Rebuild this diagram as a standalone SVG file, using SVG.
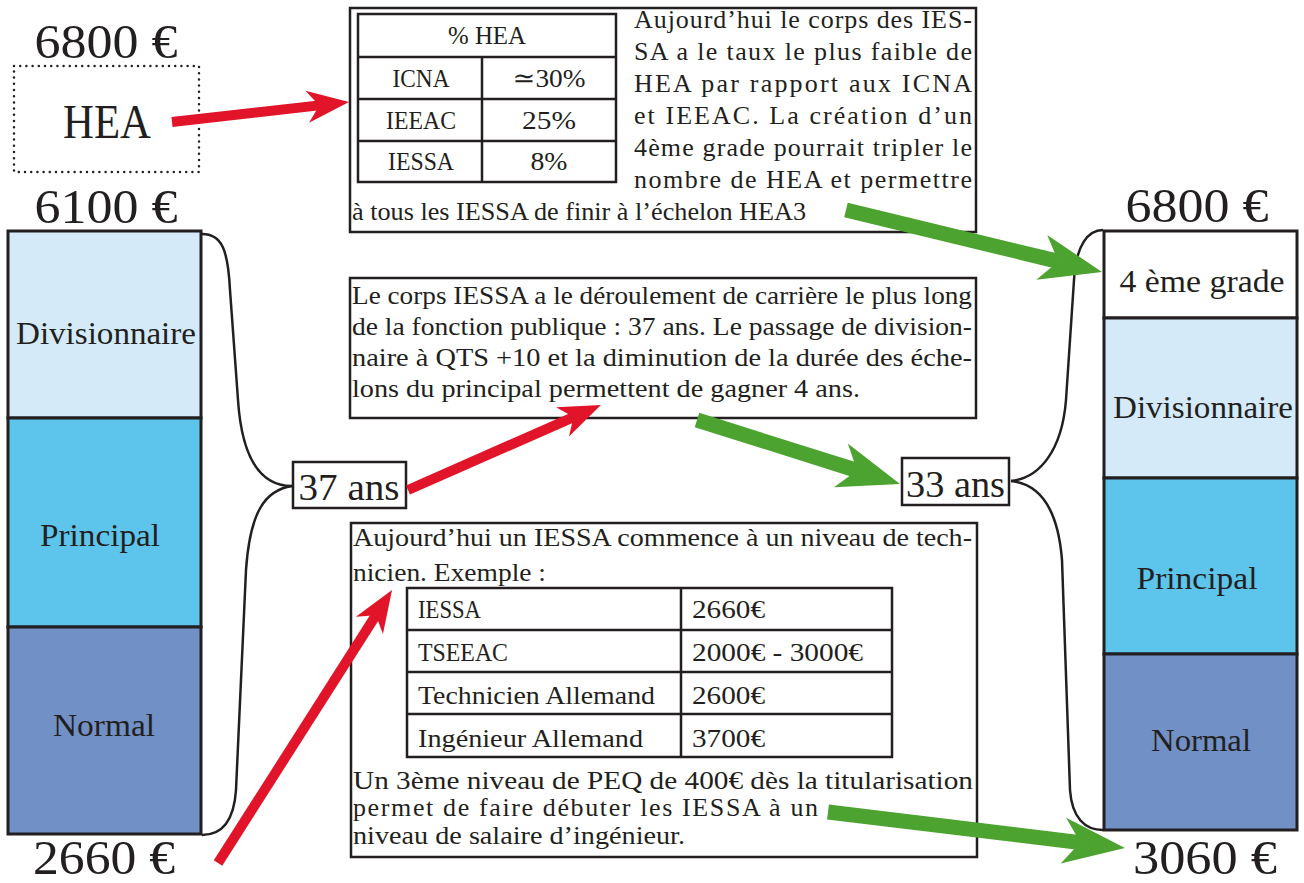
<svg xmlns="http://www.w3.org/2000/svg" width="1304" height="883" viewBox="0 0 1304 883">
<style>
.t{font-family:"Liberation Serif","DejaVu Serif",serif;fill:#231f20}
.b{font-size:26px}
.big{font-size:48px}
.lab{font-size:32px}
.box{fill:#fff;stroke:#231f20;stroke-width:2.5}
.cell{fill:none;stroke:#231f20;stroke-width:2.5}
.col{stroke:#231f20;stroke-width:3}
.brace{fill:none;stroke:#231f20;stroke-width:2.5}
.red{stroke:#e11429;stroke-width:10;fill:none}
.green{stroke:#4ca330;stroke-width:15;fill:none}
</style>
<defs>
<marker id="hr" markerUnits="userSpaceOnUse" viewBox="-15 -20 50 40" refX="0" refY="0" markerWidth="50" markerHeight="40" orient="auto" overflow="visible"><path d="M30,0 L-12,-16 L0,0 L-12,16 Z" fill="#e11429"/></marker>
<marker id="hg" markerUnits="userSpaceOnUse" viewBox="-20 -25 70 50" refX="0" refY="0" markerWidth="70" markerHeight="50" orient="auto" overflow="visible"><path d="M45,0 L-17,-23 L0,0 L-17,23 Z" fill="#4ca330"/></marker>
</defs>
<rect width="1304" height="883" fill="#fff"/>

<g id="left-column">
<text class="t big" x="106" y="58" text-anchor="middle" textLength="143" lengthAdjust="spacingAndGlyphs">6800 €</text>
<text class="t big" x="106" y="223" text-anchor="middle" textLength="143" lengthAdjust="spacingAndGlyphs">6100 €</text>
<text class="t big" x="104" y="874" text-anchor="middle" textLength="142" lengthAdjust="spacingAndGlyphs">2660 €</text>
<rect class="col" x="8" y="231" width="193" height="187" fill="#d4eaf8"/>
<rect class="col" x="8" y="418" width="193" height="209" fill="#5dc4ec"/>
<rect class="col" x="8" y="627" width="193" height="207" fill="#7190c6"/>
<text class="t lab" x="106" y="344" text-anchor="middle" textLength="180" lengthAdjust="spacingAndGlyphs">Divisionnaire</text>
<text class="t lab" x="100" y="546" text-anchor="middle" textLength="120" lengthAdjust="spacingAndGlyphs">Principal</text>
<text class="t lab" x="104" y="736" text-anchor="middle" textLength="102" lengthAdjust="spacingAndGlyphs">Normal</text>
</g>

<g id="hea">
<rect x="14" y="66" width="185" height="106" fill="none" stroke="#231f20" stroke-width="2.5" stroke-linecap="round" stroke-dasharray="0 6.2"/>
<text class="t big" x="107" y="138" text-anchor="middle" textLength="88" lengthAdjust="spacingAndGlyphs">HEA</text>
</g>

<g id="box-hea">
<rect class="box" x="350" y="8" width="626" height="224"/>
<rect class="cell" x="358" y="14" width="258" height="168" stroke-width="3"/>
<path class="cell" d="M358,57 H616 M358,99 H616 M358,141 H616 M482,57 V182"/>
<text class="t b" x="487" y="44" text-anchor="middle" textLength="78" lengthAdjust="spacingAndGlyphs">% HEA</text>
<text class="t b" x="421" y="87" text-anchor="middle" textLength="57" lengthAdjust="spacingAndGlyphs">ICNA</text>
<text class="t b" x="549" y="87" text-anchor="middle" textLength="73" lengthAdjust="spacingAndGlyphs">≃30%</text>
<text class="t b" x="421" y="129" text-anchor="middle" textLength="70" lengthAdjust="spacingAndGlyphs">IEEAC</text>
<text class="t b" x="549" y="129" text-anchor="middle" textLength="54" lengthAdjust="spacingAndGlyphs">25%</text>
<text class="t b" x="421" y="170" text-anchor="middle" textLength="66" lengthAdjust="spacingAndGlyphs">IESSA</text>
<text class="t b" x="549" y="170" text-anchor="middle" textLength="37" lengthAdjust="spacingAndGlyphs">8%</text>
<text class="t b" x="634" y="28" textLength="338" lengthAdjust="spacing">Aujourd’hui le corps des IES-</text>
<text class="t b" x="634" y="60" textLength="338" lengthAdjust="spacing">SA a le taux le plus faible de</text>
<text class="t b" x="634" y="92" textLength="338" lengthAdjust="spacing">HEA par rapport aux ICNA</text>
<text class="t b" x="634" y="124" textLength="338" lengthAdjust="spacing">et IEEAC. La création d’un</text>
<text class="t b" x="634" y="156" textLength="338" lengthAdjust="spacing">4ème grade pourrait tripler le</text>
<text class="t b" x="634" y="188" textLength="338" lengthAdjust="spacing">nombre de HEA et permettre</text>
<text class="t b" x="352" y="220" textLength="454" lengthAdjust="spacingAndGlyphs">à tous les IESSA de finir à l’échelon HEA3</text>
</g>

<g id="box-carriere">
<rect class="box" x="350" y="278" width="626" height="140"/>
<text class="t b" x="352" y="304" textLength="620" lengthAdjust="spacingAndGlyphs">Le corps IESSA a le déroulement de carrière le plus long</text>
<text class="t b" x="352" y="335" textLength="620" lengthAdjust="spacingAndGlyphs">de la fonction publique : 37 ans. Le passage de division-</text>
<text class="t b" x="352" y="366" textLength="620" lengthAdjust="spacingAndGlyphs">naire à QTS +10 et la diminution de la durée des éche-</text>
<text class="t b" x="352" y="397" textLength="508" lengthAdjust="spacingAndGlyphs">lons du principal permettent de gagner 4 ans.</text>
</g>

<g id="box-salaire">
<rect class="box" x="351" y="523" width="626" height="334"/>
<text class="t b" x="353" y="546" textLength="619" lengthAdjust="spacingAndGlyphs">Aujourd’hui un IESSA commence à un niveau de tech-</text>
<text class="t b" x="353" y="581" textLength="193" lengthAdjust="spacingAndGlyphs">nicien. Exemple :</text>
<rect class="cell" x="407" y="588" width="485" height="169" stroke-width="3"/>
<path class="cell" d="M407,630 H892 M407,672 H892 M407,714 H892 M681,588 V757"/>
<text class="t b" x="418" y="618" textLength="63" lengthAdjust="spacingAndGlyphs">IESSA</text>
<text class="t b" x="692" y="618" textLength="73" lengthAdjust="spacingAndGlyphs">2660€</text>
<text class="t b" x="418" y="661" textLength="90" lengthAdjust="spacingAndGlyphs">TSEEAC</text>
<text class="t b" x="692" y="661" textLength="171" lengthAdjust="spacingAndGlyphs">2000€ - 3000€</text>
<text class="t b" x="418" y="704" textLength="237" lengthAdjust="spacingAndGlyphs">Technicien Allemand</text>
<text class="t b" x="692" y="704" textLength="73" lengthAdjust="spacingAndGlyphs">2600€</text>
<text class="t b" x="418" y="747" textLength="225" lengthAdjust="spacingAndGlyphs">Ingénieur Allemand</text>
<text class="t b" x="692" y="747" textLength="73" lengthAdjust="spacingAndGlyphs">3700€</text>
<text class="t b" x="353" y="789" textLength="620" lengthAdjust="spacingAndGlyphs">Un 3ème niveau de PEQ de 400€ dès la titularisation</text>
<text class="t b" x="353" y="816" textLength="465" lengthAdjust="spacing">permet de faire débuter les IESSA à un</text>
<text class="t b" x="353" y="844" textLength="332" lengthAdjust="spacingAndGlyphs">niveau de salaire d’ingénieur.</text>
</g>

<g id="ans37">
<rect class="box" x="293" y="462" width="113" height="46"/>
<text class="t" font-size="38" x="349" y="500" text-anchor="middle" textLength="101" lengthAdjust="spacingAndGlyphs">37 ans</text>
</g>

<g id="ans33">
<rect class="box" x="902" y="458" width="107" height="47"/>
<text class="t" font-size="38" x="955.5" y="497" text-anchor="middle" textLength="99" lengthAdjust="spacingAndGlyphs">33 ans</text>
</g>

<g id="right-column">
<text class="t big" x="1197" y="222" text-anchor="middle" textLength="143" lengthAdjust="spacingAndGlyphs">6800 €</text>
<text class="t big" x="1205" y="874" text-anchor="middle" textLength="144" lengthAdjust="spacingAndGlyphs">3060 €</text>
<rect class="col" x="1104" y="231" width="193" height="87" fill="#fff"/>
<rect class="col" x="1104" y="318" width="193" height="160" fill="#d4eaf8"/>
<rect class="col" x="1104" y="478" width="193" height="176" fill="#5dc4ec"/>
<rect class="col" x="1104" y="654" width="193" height="176" fill="#7190c6"/>
<text class="t lab" x="1202" y="292" text-anchor="middle" textLength="165" lengthAdjust="spacingAndGlyphs">4 ème grade</text>
<text class="t lab" x="1203" y="418" text-anchor="middle" textLength="180" lengthAdjust="spacingAndGlyphs">Divisionnaire</text>
<text class="t lab" x="1197" y="589" text-anchor="middle" textLength="121" lengthAdjust="spacingAndGlyphs">Principal</text>
<text class="t lab" x="1201" y="751" text-anchor="middle" textLength="100" lengthAdjust="spacingAndGlyphs">Normal</text>
</g>

<g id="connectors">
<path class="brace" d="M202,234 C222,234 228,250 230,290 L238,400 C242,460 262,486 292,486"/>
<path class="brace" d="M292,486 C265,490 250,512 246,570 L236,790 C234,820 222,835 202,835"/>
<path class="brace" d="M1011,481 C1040,478 1062,450 1066,400 L1074,280 C1076,245 1088,230 1103,230"/>
<path class="brace" d="M1011,481 C1040,484 1058,510 1062,560 L1070,790 C1072,818 1085,830 1103,830"/>
<line class="red" x1="172" y1="122" x2="319.2" y2="105.4" marker-end="url(#hr)"/>
<line class="red" x1="408" y1="490" x2="573.5" y2="417.1" marker-end="url(#hr)"/>
<line class="red" x1="218" y1="863" x2="375.9" y2="615.3" marker-end="url(#hr)"/>
<line class="green" x1="846" y1="210" x2="1058.3" y2="261.4" marker-end="url(#hg)"/>
<line class="green" x1="697" y1="420" x2="857.1" y2="470.5" marker-end="url(#hg)"/>
<line class="green" x1="828" y1="812" x2="1080.3" y2="842.6" marker-end="url(#hg)"/>
</g>
</svg>
